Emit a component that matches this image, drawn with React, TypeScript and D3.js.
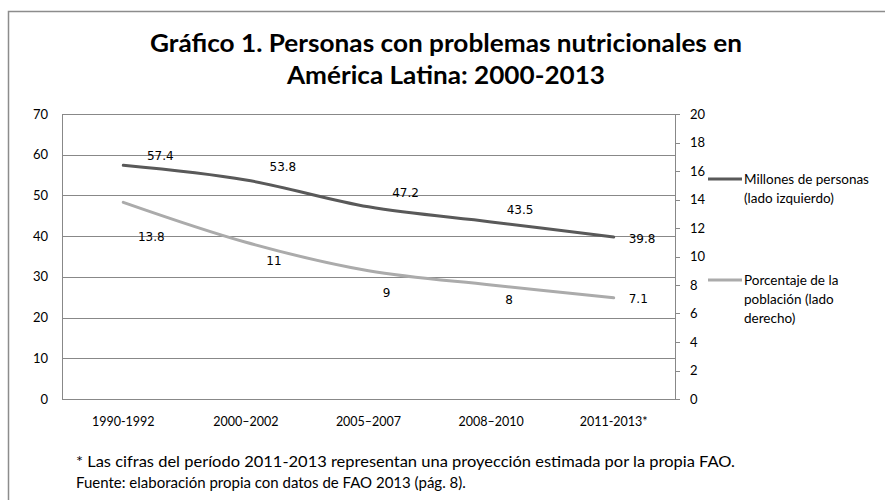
import React from 'react';
import * as d3 from 'd3';

// categories and series
const categories = ['1990-1992', '2000–2002', '2005–2007', '2008–2010', '2011-2013*'];
const millones = [57.4, 53.8, 47.2, 43.5, 39.8];
const porcentaje = [13.8, 11, 9, 8, 7.1];
const leftTicks = [0, 10, 20, 30, 40, 50, 60, 70];
const rightTicks = [0, 2, 4, 6, 8, 10, 12, 14, 16, 18, 20];
const title = ['Gráfico 1. Personas con problemas nutricionales en', 'América Latina: 2000-2013'];
const notes = [
  '* Las cifras del período 2011-2013  representan una proyección estimada por la propia FAO.',
  'Fuente: elaboración propia con datos de FAO 2013  (pág. 8).',
];

// label placement (layout, not data)
const millLabelOff = [[37, -10], [37, -13], [37, -14], [29, -12], [15, 2]];
const pctLabelOff = [[28, 34], [28, 19], [18, 22], [18, 15], [15, 1]];
const titleWidths = [592, 318];

const W = 885;
const H = 500;
const left = 62;
const right = 675;
const top = 114;
const bottom = 399;

const font = 'Lato, "Open Sans", sans-serif';
const numFont = '"DejaVu Sans", Verdana, sans-serif';
const dark = '#595959';
const light = '#ababab';
const grid = '#888888';

export default function App() {
  const x = d3.scaleBand().domain(categories).range([left, right]);
  const cx = (c: string) => (x(c) as number) + x.bandwidth() / 2;
  const yL = d3.scaleLinear().domain([0, 70]).range([bottom, top]);
  const yR = d3.scaleLinear().domain([0, 20]).range([bottom, top]);

  const line = (vals: number[], y: d3.ScaleLinear<number, number>) =>
    d3.line<number>()
      .x((_, i) => cx(categories[i]))
      .y(d => y(d))
      .curve(d3.curveCatmullRom.alpha(0.5))(vals) as string;

  return (
    <svg width={W} height={H} style={{ position: 'absolute', left: 0, top: 0, background: '#fff' }}>
      <rect x={8.5} y={11.5} width={W + 10} height={H + 10} fill="#fff" stroke="#8c8c8c" strokeWidth={1.5} />

      {title.map((t, i) => (
        <text key={t} x={446} y={52 + i * 32} textAnchor="middle" fontFamily={font}
          fontWeight="bold" fontSize={25} fill="#000"
          textLength={titleWidths[i]} lengthAdjust="spacingAndGlyphs">{t}</text>
      ))}

      {/* gridlines */}
      {leftTicks.map(t => (
        <line key={'g' + t} x1={left} x2={right} y1={Math.round(yL(t)) + 0.5} y2={Math.round(yL(t)) + 0.5}
          stroke={grid} strokeWidth={1} />
      ))}
      <line x1={left + 0.5} x2={left + 0.5} y1={top} y2={bottom} stroke={grid} />
      <line x1={right + 0.5} x2={right + 0.5} y1={top} y2={bottom} stroke={grid} />

      {/* left axis labels */}
      {leftTicks.map(t => (
        <text key={'l' + t} x={48} y={yL(t)} dy="0.35em" textAnchor="end" fontFamily={font}
          fontSize={13} fill="#000">{t}</text>
      ))}
      {/* right axis */}
      {rightTicks.map(t => (
        <g key={'r' + t}>
          <line x1={right} x2={right + 5} y1={Math.round(yR(t)) + 0.5} y2={Math.round(yR(t)) + 0.5} stroke={grid} />
          <text x={690} y={yR(t)} dy="0.35em" fontFamily={font} fontSize={13} fill="#000">{t}</text>
        </g>
      ))}

      {/* category labels */}
      {categories.map(c => (
        <text key={c} x={cx(c)} y={422} dy="0.35em" textAnchor="middle" fontFamily={font}
          fontSize={12.5} fill="#000">{c}</text>
      ))}

      {/* series */}
      <path d={line(porcentaje, yR)} fill="none" stroke={light} strokeWidth={3} strokeLinecap="round" />
      <path d={line(millones, yL)} fill="none" stroke={dark} strokeWidth={3} strokeLinecap="round" />

      {millones.map((v, i) => {
        const last = i === millones.length - 1;
        return (
          <text key={'m' + i} x={cx(categories[i]) + millLabelOff[i][0]}
            y={yL(v) + millLabelOff[i][1]} dy="0.35em" textAnchor={last ? 'start' : 'middle'}
            fontFamily={numFont} fontSize={12} fill="#000">{v}</text>
        );
      })}
      {porcentaje.map((v, i) => {
        const last = i === porcentaje.length - 1;
        return (
          <text key={'p' + i} x={cx(categories[i]) + pctLabelOff[i][0]}
            y={yR(v) + pctLabelOff[i][1]} dy="0.35em" textAnchor={last ? 'start' : 'middle'}
            fontFamily={numFont} fontSize={12} fill="#000">{v}</text>
        );
      })}

      {/* legend */}
      <line x1={708} x2={742} y1={179} y2={179} stroke={dark} strokeWidth={3} />
      <text fontFamily={font} fontSize={13.5} fill="#000">
        <tspan x={744} y={179} dy="0.35em">Millones de personas</tspan>
        <tspan x={744} y={198} dy="0.35em">(lado izquierdo)</tspan>
      </text>
      <line x1={708} x2={742} y1={280} y2={280} stroke={light} strokeWidth={3} />
      <text fontFamily={font} fontSize={13.5} fill="#000">
        <tspan x={744} y={280} dy="0.35em">Porcentaje de la</tspan>
        <tspan x={744} y={299} dy="0.35em">población (lado</tspan>
        <tspan x={744} y={318} dy="0.35em">derecho)</tspan>
      </text>

      {/* notes */}
      <text x={76} y={462} dy="0.35em" fontFamily={font} fontSize={15} fill="#000"
        textLength={659} lengthAdjust="spacingAndGlyphs">{notes[0]}</text>
      <text x={76} y={483} dy="0.35em" fontFamily={font} fontSize={15} fill="#000">{notes[1]}</text>
    </svg>
  );
}
